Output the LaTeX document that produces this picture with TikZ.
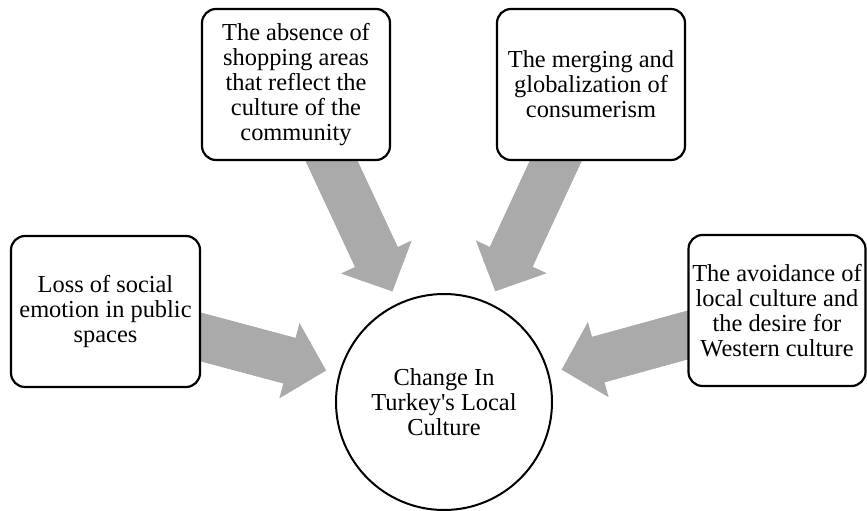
\documentclass[tikz,border=0pt]{standalone}
\usepackage{fontspec}
\setmainfont{Liberation Serif}
\usetikzlibrary{arrows.meta,backgrounds}
\definecolor{arrowgray}{RGB}{170,170,170}
\begin{document}
\begin{tikzpicture}[x=1pt,y=-1pt,
  box/.style={draw, line width=2.2pt, rounded corners=14pt, fill=white, align=center,
    inner sep=0pt, minimum height=151pt, font=\fontsize{24.4pt}{25pt}\selectfont},
  hub/.style={draw, circle, line width=2pt, fill=white, minimum size=216pt, inner sep=0pt,
    align=center, font=\fontsize{24.4pt}{25pt}\selectfont},
  bigarrow/.style={draw=arrowgray, line width=47pt,
    -{Triangle[length=38pt,width=78pt,line width=0pt]},
    shorten <=-20pt, shorten >=13pt,
    postaction={draw=arrowgray, line width=47pt, -, shorten >=35pt}}]
\useasboundingbox (0,0) rectangle (867,511);
\node[box, minimum width=188pt] (tl) at (296,84.5) {The absence of\\shopping areas\\that reflect the\\culture of the\\community};
\node[box, minimum width=188pt] (tr) at (591,84.5) {The merging and\\globalization of\\consumerism};
\node[box, minimum width=189pt] (lf) at (105.5,311.5) {Loss of social\\emotion in public\\spaces};
\node[box, minimum width=177pt] (rt) at (777,310.5) {The avoidance of\\local culture and\\the desire for\\Western culture};
\node[hub] (c) at (444,402) {Change In\\Turkey\textquotesingle s Local\\Culture};
\begin{scope}[on background layer]
\draw[bigarrow] (tl) -- (c);
\draw[bigarrow] (tr) -- (c);
\draw[bigarrow] (lf) -- (c);
\draw[bigarrow] (rt) -- (c);
\end{scope}
\end{tikzpicture}
\end{document}
